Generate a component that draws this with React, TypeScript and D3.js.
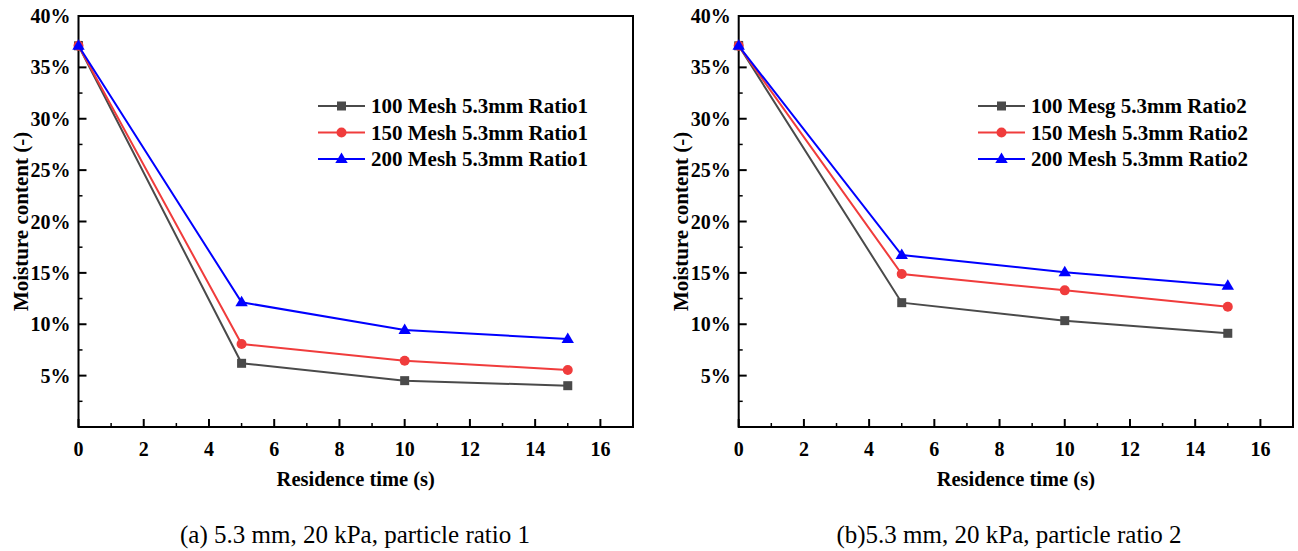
import React from "react";
import * as d3 from "d3";

// Residence times (s)
const times = [0, 5, 10, 15];

// Panel (a): particle ratio 1
const ratio1Mesh100 = [0.371, 0.062, 0.0451, 0.0402];
const ratio1Mesh150 = [0.371, 0.0808, 0.0645, 0.0555];
const ratio1Mesh200 = [0.371, 0.1214, 0.0944, 0.0856];
const ratio1Labels = ["100 Mesh 5.3mm Ratio1", "150 Mesh 5.3mm Ratio1", "200 Mesh 5.3mm Ratio1"];

// Panel (b): particle ratio 2
const ratio2Mesh100 = [0.371, 0.121, 0.1035, 0.0912];
const ratio2Mesh150 = [0.371, 0.1489, 0.133, 0.1171];
const ratio2Mesh200 = [0.371, 0.1674, 0.1506, 0.1375];
const ratio2Labels = ["100 Mesg 5.3mm Ratio2", "150 Mesh 5.3mm Ratio2", "200 Mesh 5.3mm Ratio2"];

const xMajorTicks = [0, 2, 4, 6, 8, 10, 12, 14, 16];
const yMajorTicks = [0.05, 0.1, 0.15, 0.2, 0.25, 0.3, 0.35, 0.4];

const captionA = "(a) 5.3 mm, 20 kPa, particle ratio 1";
const captionB = "(b)5.3 mm, 20 kPa, particle ratio 2";

const COLORS = ["#4a4a4a", "#f03c3c", "#0000ff"];
const MARKERS = ["square", "circle", "triangle"];
const FONT = "'Liberation Serif', 'Times New Roman', serif";

type PanelProps = {
  left: number;
  right: number;
  series: number[][];
  labels: string[];
  legendX: number;
  caption: string;
  captionX: number;
};

function Marker({ kind, x, y, color }: { kind: string; x: number; y: number; color: string }) {
  if (kind === "square") {
    return <rect x={x - 4.5} y={y - 4.5} width={9} height={9} fill={color} />;
  }
  if (kind === "circle") {
    return <circle cx={x} cy={y} r={5} fill={color} />;
  }
  const s = 6.2;
  return (
    <path
      d={`M${x},${y - s * 1.05} L${x + s},${y + s * 0.65} L${x - s},${y + s * 0.65} Z`}
      fill={color}
    />
  );
}

function Panel({ left, right, series, labels, legendX, caption, captionX }: PanelProps) {
  const top = 16;
  const bottom = 427;
  const x = d3.scaleLinear().domain([0, 17]).range([left, right]);
  const y = d3.scaleLinear().domain([0, 0.4]).range([bottom, top]);
  const line = d3
    .line<number>()
    .x((_, i) => x(times[i]))
    .y((v) => y(v));
  const fmt = d3.format(".0%");
  const xMinor = d3.range(1, 17, 2);
  const yMinor = d3.range(0.025, 0.4, 0.05);

  return (
    <g>
      {/* frame */}
      <rect x={left} y={top} width={right - left} height={bottom - top} fill="none" stroke="#000" strokeWidth={2} />

      {/* x ticks (inward) */}
      {xMajorTicks.map((t) => (
        <g key={`xt${t}`}>
          <line x1={x(t)} x2={x(t)} y1={bottom} y2={bottom - 8} stroke="#000" strokeWidth={2} />
          <text x={x(t)} y={bottom + 29} textAnchor="middle" fontFamily={FONT} fontWeight="bold" fontSize={20}>
            {t}
          </text>
        </g>
      ))}
      {xMinor.map((t) => (
        <line key={`xm${t}`} x1={x(t)} x2={x(t)} y1={bottom} y2={bottom - 4} stroke="#000" strokeWidth={1.5} />
      ))}

      {/* y ticks (inward) */}
      {yMajorTicks.map((t) => (
        <g key={`yt${t}`}>
          <line x1={left} x2={left + 8} y1={y(t)} y2={y(t)} stroke="#000" strokeWidth={2} />
          <text x={left - 8} y={y(t) + 7} textAnchor="end" fontFamily={FONT} fontWeight="bold" fontSize={20}>
            {fmt(t)}
          </text>
        </g>
      ))}
      {yMinor.map((t) => (
        <line key={`ym${t}`} x1={left} x2={left + 4} y1={y(t)} y2={y(t)} stroke="#000" strokeWidth={1.5} />
      ))}

      {/* axis titles */}
      <text
        x={(left + right) / 2}
        y={486}
        textAnchor="middle"
        fontFamily={FONT}
        fontWeight="bold"
        fontSize={20.5}
      >
        Residence time (s)
      </text>
      <text
        transform={`translate(${left - 51},${(top + bottom) / 2}) rotate(-90)`}
        textAnchor="middle"
        fontFamily={FONT}
        fontWeight="bold"
        fontSize={21}
      >
        Moisture content (-)
      </text>

      {/* series */}
      {series.map((vals, si) => (
        <g key={`s${si}`}>
          <path d={line(vals) || ""} fill="none" stroke={COLORS[si]} strokeWidth={2} />
          {vals.map((v, i) => (
            <Marker key={i} kind={MARKERS[si]} x={x(times[i])} y={y(v)} color={COLORS[si]} />
          ))}
        </g>
      ))}

      {/* legend */}
      {labels.map((lab, i) => {
        const ly = 106 + i * 26.5;
        return (
          <g key={`l${i}`}>
            <line x1={legendX} x2={legendX + 47} y1={ly} y2={ly} stroke={COLORS[i]} strokeWidth={2} />
            <Marker kind={MARKERS[i]} x={legendX + 23.5} y={ly} color={COLORS[i]} />
            <text x={legendX + 53} y={ly + 7} fontFamily={FONT} fontWeight="bold" fontSize={21}>
              {lab}
            </text>
          </g>
        );
      })}

      {/* caption */}
      <text x={captionX} y={543} textAnchor="middle" fontFamily={FONT} fontSize={25}>
        {caption}
      </text>
    </g>
  );
}

export default function App() {
  return (
    <svg
      width={1298}
      height={551}
      style={{ position: "absolute", left: 0, top: 0, background: "#fff" }}
    >
      <rect width={1298} height={551} fill="#fff" />
      <Panel
        left={78.5}
        right={633}
        series={[ratio1Mesh100, ratio1Mesh150, ratio1Mesh200]}
        labels={ratio1Labels}
        legendX={318}
        caption={captionA}
        captionX={355}
      />
      <Panel
        left={738.7}
        right={1293}
        series={[ratio2Mesh100, ratio2Mesh150, ratio2Mesh200]}
        labels={ratio2Labels}
        legendX={978}
        caption={captionB}
        captionX={1009}
      />
    </svg>
  );
}
